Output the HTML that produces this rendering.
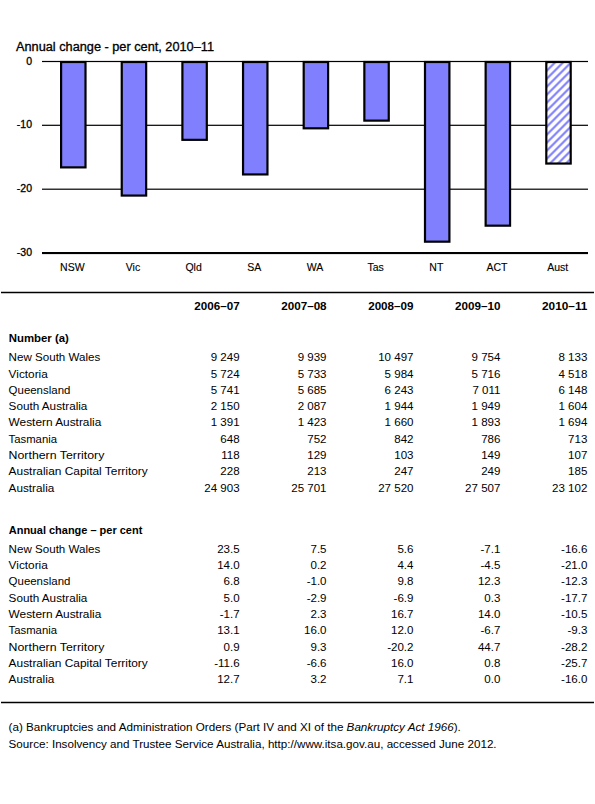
<!DOCTYPE html>
<html><head><meta charset="utf-8"><style>
html,body{margin:0;padding:0;background:#fff;width:595px;height:804px;overflow:hidden}
svg{display:block}
text{font-family:'Liberation Sans', sans-serif;fill:#000}
</style></head><body>
<svg width="595" height="804" viewBox="0 0 595 804">
<defs><pattern id="hatch" patternUnits="userSpaceOnUse" x="0" y="1.5" width="8" height="8">
<rect width="8" height="8" fill="#fff"/>
<path d="M-2,2 L2,-2 M0,8 L8,0 M6,10 L10,6" stroke="#8080FF" stroke-width="2.2"/>
</pattern></defs>
<rect x="42" y="60.90" width="546" height="1.2" fill="#000"/>
<rect x="42" y="124.70" width="546" height="1.2" fill="#000"/>
<rect x="42" y="188.60" width="546" height="1.2" fill="#000"/>
<rect x="61.10" y="62" width="24.4" height="105.38" fill="#8080FF" stroke="#000" stroke-width="2.2"/>
<rect x="121.75" y="62" width="24.4" height="133.56" fill="#8080FF" stroke="#000" stroke-width="2.2"/>
<rect x="182.40" y="62" width="24.4" height="77.84" fill="#8080FF" stroke="#000" stroke-width="2.2"/>
<rect x="243.05" y="62" width="24.4" height="112.43" fill="#8080FF" stroke="#000" stroke-width="2.2"/>
<rect x="303.70" y="62" width="24.4" height="66.31" fill="#8080FF" stroke="#000" stroke-width="2.2"/>
<rect x="364.35" y="62" width="24.4" height="58.63" fill="#8080FF" stroke="#000" stroke-width="2.2"/>
<rect x="425.00" y="62" width="24.4" height="179.68" fill="#8080FF" stroke="#000" stroke-width="2.2"/>
<rect x="485.65" y="62" width="24.4" height="163.67" fill="#8080FF" stroke="#000" stroke-width="2.2"/>
<rect x="546.30" y="62" width="24.4" height="101.54" fill="url(#hatch)" stroke="#000" stroke-width="2.2"/>
<rect x="42" y="252" width="546" height="2.1" fill="#000"/>
<text x="16.00" y="51.00" font-size="12" text-anchor="start" textLength="198" lengthAdjust="spacingAndGlyphs" stroke="#000" stroke-width="0.3">Annual change - per cent, 2010–11</text>
<text x="32.00" y="64.70" font-size="10.5" text-anchor="end" stroke="#000" stroke-width="0.3">0</text>
<text x="32.00" y="128.10" font-size="10.5" text-anchor="end" stroke="#000" stroke-width="0.3">-10</text>
<text x="32.00" y="192.00" font-size="10.5" text-anchor="end" stroke="#000" stroke-width="0.3">-20</text>
<text x="32.00" y="255.80" font-size="10.5" text-anchor="end" stroke="#000" stroke-width="0.3">-30</text>
<text x="72.30" y="271.00" font-size="10.5" text-anchor="middle" stroke="#000" stroke-width="0.12">NSW</text>
<text x="132.97" y="271.00" font-size="10.5" text-anchor="middle" stroke="#000" stroke-width="0.12">Vic</text>
<text x="193.64" y="271.00" font-size="10.5" text-anchor="middle" stroke="#000" stroke-width="0.12">Qld</text>
<text x="254.31" y="271.00" font-size="10.5" text-anchor="middle" stroke="#000" stroke-width="0.12">SA</text>
<text x="314.98" y="271.00" font-size="10.5" text-anchor="middle" stroke="#000" stroke-width="0.12">WA</text>
<text x="375.65" y="271.00" font-size="10.5" text-anchor="middle" stroke="#000" stroke-width="0.12">Tas</text>
<text x="436.32" y="271.00" font-size="10.5" text-anchor="middle" stroke="#000" stroke-width="0.12">NT</text>
<text x="496.99" y="271.00" font-size="10.5" text-anchor="middle" stroke="#000" stroke-width="0.12">ACT</text>
<text x="557.66" y="271.00" font-size="10.5" text-anchor="middle" stroke="#000" stroke-width="0.12">Aust</text>
<rect x="1" y="291.75" width="593" height="1.5" fill="#000"/>
<text x="239.70" y="309.80" font-size="10.5" text-anchor="end" font-weight="bold" textLength="45.4" lengthAdjust="spacingAndGlyphs">2006–07</text>
<text x="326.63" y="309.80" font-size="10.5" text-anchor="end" font-weight="bold" textLength="45.4" lengthAdjust="spacingAndGlyphs">2007–08</text>
<text x="413.56" y="309.80" font-size="10.5" text-anchor="end" font-weight="bold" textLength="45.4" lengthAdjust="spacingAndGlyphs">2008–09</text>
<text x="500.49" y="309.80" font-size="10.5" text-anchor="end" font-weight="bold" textLength="45.4" lengthAdjust="spacingAndGlyphs">2009–10</text>
<text x="587.42" y="309.80" font-size="10.5" text-anchor="end" font-weight="bold" textLength="45.4" lengthAdjust="spacingAndGlyphs">2010–11</text>
<text x="8.70" y="341.80" font-size="10.5" text-anchor="start" font-weight="bold" textLength="60.2" lengthAdjust="spacingAndGlyphs">Number (a)</text>
<text x="8.60" y="361.00" font-size="10.5" text-anchor="start" textLength="91.7" lengthAdjust="spacingAndGlyphs">New South Wales</text>
<text transform="translate(239.60,361.00) scale(1.1,1)" font-size="10.5" text-anchor="end">9 249</text>
<text transform="translate(326.53,361.00) scale(1.1,1)" font-size="10.5" text-anchor="end">9 939</text>
<text transform="translate(413.46,361.00) scale(1.1,1)" font-size="10.5" text-anchor="end">10 497</text>
<text transform="translate(500.39,361.00) scale(1.1,1)" font-size="10.5" text-anchor="end">9 754</text>
<text transform="translate(587.32,361.00) scale(1.1,1)" font-size="10.5" text-anchor="end">8 133</text>
<text x="8.60" y="378.10" font-size="10.5" text-anchor="start" textLength="39.2" lengthAdjust="spacingAndGlyphs">Victoria</text>
<text transform="translate(239.60,378.10) scale(1.1,1)" font-size="10.5" text-anchor="end">5 724</text>
<text transform="translate(326.53,378.10) scale(1.1,1)" font-size="10.5" text-anchor="end">5 733</text>
<text transform="translate(413.46,378.10) scale(1.1,1)" font-size="10.5" text-anchor="end">5 984</text>
<text transform="translate(500.39,378.10) scale(1.1,1)" font-size="10.5" text-anchor="end">5 716</text>
<text transform="translate(587.32,378.10) scale(1.1,1)" font-size="10.5" text-anchor="end">4 518</text>
<text x="8.60" y="394.00" font-size="10.5" text-anchor="start" textLength="61.8" lengthAdjust="spacingAndGlyphs">Queensland</text>
<text transform="translate(239.60,394.00) scale(1.1,1)" font-size="10.5" text-anchor="end">5 741</text>
<text transform="translate(326.53,394.00) scale(1.1,1)" font-size="10.5" text-anchor="end">5 685</text>
<text transform="translate(413.46,394.00) scale(1.1,1)" font-size="10.5" text-anchor="end">6 243</text>
<text transform="translate(500.39,394.00) scale(1.1,1)" font-size="10.5" text-anchor="end">7 011</text>
<text transform="translate(587.32,394.00) scale(1.1,1)" font-size="10.5" text-anchor="end">6 148</text>
<text x="8.60" y="409.80" font-size="10.5" text-anchor="start" textLength="78.8" lengthAdjust="spacingAndGlyphs">South Australia</text>
<text transform="translate(239.60,409.80) scale(1.1,1)" font-size="10.5" text-anchor="end">2 150</text>
<text transform="translate(326.53,409.80) scale(1.1,1)" font-size="10.5" text-anchor="end">2 087</text>
<text transform="translate(413.46,409.80) scale(1.1,1)" font-size="10.5" text-anchor="end">1 944</text>
<text transform="translate(500.39,409.80) scale(1.1,1)" font-size="10.5" text-anchor="end">1 949</text>
<text transform="translate(587.32,409.80) scale(1.1,1)" font-size="10.5" text-anchor="end">1 604</text>
<text x="8.60" y="425.90" font-size="10.5" text-anchor="start" textLength="92.7" lengthAdjust="spacingAndGlyphs">Western Australia</text>
<text transform="translate(239.60,425.90) scale(1.1,1)" font-size="10.5" text-anchor="end">1 391</text>
<text transform="translate(326.53,425.90) scale(1.1,1)" font-size="10.5" text-anchor="end">1 423</text>
<text transform="translate(413.46,425.90) scale(1.1,1)" font-size="10.5" text-anchor="end">1 660</text>
<text transform="translate(500.39,425.90) scale(1.1,1)" font-size="10.5" text-anchor="end">1 893</text>
<text transform="translate(587.32,425.90) scale(1.1,1)" font-size="10.5" text-anchor="end">1 694</text>
<text x="8.60" y="443.00" font-size="10.5" text-anchor="start" textLength="48.4" lengthAdjust="spacingAndGlyphs">Tasmania</text>
<text transform="translate(239.60,443.00) scale(1.1,1)" font-size="10.5" text-anchor="end">648</text>
<text transform="translate(326.53,443.00) scale(1.1,1)" font-size="10.5" text-anchor="end">752</text>
<text transform="translate(413.46,443.00) scale(1.1,1)" font-size="10.5" text-anchor="end">842</text>
<text transform="translate(500.39,443.00) scale(1.1,1)" font-size="10.5" text-anchor="end">786</text>
<text transform="translate(587.32,443.00) scale(1.1,1)" font-size="10.5" text-anchor="end">713</text>
<text x="8.60" y="458.90" font-size="10.5" text-anchor="start" textLength="95.7" lengthAdjust="spacingAndGlyphs">Northern Territory</text>
<text transform="translate(239.60,458.90) scale(1.1,1)" font-size="10.5" text-anchor="end">118</text>
<text transform="translate(326.53,458.90) scale(1.1,1)" font-size="10.5" text-anchor="end">129</text>
<text transform="translate(413.46,458.90) scale(1.1,1)" font-size="10.5" text-anchor="end">103</text>
<text transform="translate(500.39,458.90) scale(1.1,1)" font-size="10.5" text-anchor="end">149</text>
<text transform="translate(587.32,458.90) scale(1.1,1)" font-size="10.5" text-anchor="end">107</text>
<text x="8.60" y="474.70" font-size="10.5" text-anchor="start" textLength="139.2" lengthAdjust="spacingAndGlyphs">Australian Capital Territory</text>
<text transform="translate(239.60,474.70) scale(1.1,1)" font-size="10.5" text-anchor="end">228</text>
<text transform="translate(326.53,474.70) scale(1.1,1)" font-size="10.5" text-anchor="end">213</text>
<text transform="translate(413.46,474.70) scale(1.1,1)" font-size="10.5" text-anchor="end">247</text>
<text transform="translate(500.39,474.70) scale(1.1,1)" font-size="10.5" text-anchor="end">249</text>
<text transform="translate(587.32,474.70) scale(1.1,1)" font-size="10.5" text-anchor="end">185</text>
<text x="8.60" y="491.60" font-size="10.5" text-anchor="start" textLength="45.7" lengthAdjust="spacingAndGlyphs">Australia</text>
<text transform="translate(239.60,491.60) scale(1.1,1)" font-size="10.5" text-anchor="end">24 903</text>
<text transform="translate(326.53,491.60) scale(1.1,1)" font-size="10.5" text-anchor="end">25 701</text>
<text transform="translate(413.46,491.60) scale(1.1,1)" font-size="10.5" text-anchor="end">27 520</text>
<text transform="translate(500.39,491.60) scale(1.1,1)" font-size="10.5" text-anchor="end">27 507</text>
<text transform="translate(587.32,491.60) scale(1.1,1)" font-size="10.5" text-anchor="end">23 102</text>
<text x="8.80" y="533.80" font-size="10.5" text-anchor="start" font-weight="bold" textLength="133.5" lengthAdjust="spacingAndGlyphs">Annual change – per cent</text>
<text x="8.60" y="552.80" font-size="10.5" text-anchor="start" textLength="91.7" lengthAdjust="spacingAndGlyphs">New South Wales</text>
<text transform="translate(239.60,552.80) scale(1.1,1)" font-size="10.5" text-anchor="end">23.5</text>
<text transform="translate(326.53,552.80) scale(1.1,1)" font-size="10.5" text-anchor="end">7.5</text>
<text transform="translate(413.46,552.80) scale(1.1,1)" font-size="10.5" text-anchor="end">5.6</text>
<text transform="translate(500.39,552.80) scale(1.1,1)" font-size="10.5" text-anchor="end">-7.1</text>
<text transform="translate(587.32,552.80) scale(1.1,1)" font-size="10.5" text-anchor="end">-16.6</text>
<text x="8.60" y="569.00" font-size="10.5" text-anchor="start" textLength="39.2" lengthAdjust="spacingAndGlyphs">Victoria</text>
<text transform="translate(239.60,569.00) scale(1.1,1)" font-size="10.5" text-anchor="end">14.0</text>
<text transform="translate(326.53,569.00) scale(1.1,1)" font-size="10.5" text-anchor="end">0.2</text>
<text transform="translate(413.46,569.00) scale(1.1,1)" font-size="10.5" text-anchor="end">4.4</text>
<text transform="translate(500.39,569.00) scale(1.1,1)" font-size="10.5" text-anchor="end">-4.5</text>
<text transform="translate(587.32,569.00) scale(1.1,1)" font-size="10.5" text-anchor="end">-21.0</text>
<text x="8.60" y="584.90" font-size="10.5" text-anchor="start" textLength="61.8" lengthAdjust="spacingAndGlyphs">Queensland</text>
<text transform="translate(239.60,584.90) scale(1.1,1)" font-size="10.5" text-anchor="end">6.8</text>
<text transform="translate(326.53,584.90) scale(1.1,1)" font-size="10.5" text-anchor="end">-1.0</text>
<text transform="translate(413.46,584.90) scale(1.1,1)" font-size="10.5" text-anchor="end">9.8</text>
<text transform="translate(500.39,584.90) scale(1.1,1)" font-size="10.5" text-anchor="end">12.3</text>
<text transform="translate(587.32,584.90) scale(1.1,1)" font-size="10.5" text-anchor="end">-12.3</text>
<text x="8.60" y="602.00" font-size="10.5" text-anchor="start" textLength="78.8" lengthAdjust="spacingAndGlyphs">South Australia</text>
<text transform="translate(239.60,602.00) scale(1.1,1)" font-size="10.5" text-anchor="end">5.0</text>
<text transform="translate(326.53,602.00) scale(1.1,1)" font-size="10.5" text-anchor="end">-2.9</text>
<text transform="translate(413.46,602.00) scale(1.1,1)" font-size="10.5" text-anchor="end">-6.9</text>
<text transform="translate(500.39,602.00) scale(1.1,1)" font-size="10.5" text-anchor="end">0.3</text>
<text transform="translate(587.32,602.00) scale(1.1,1)" font-size="10.5" text-anchor="end">-17.7</text>
<text x="8.60" y="617.80" font-size="10.5" text-anchor="start" textLength="92.7" lengthAdjust="spacingAndGlyphs">Western Australia</text>
<text transform="translate(239.60,617.80) scale(1.1,1)" font-size="10.5" text-anchor="end">-1.7</text>
<text transform="translate(326.53,617.80) scale(1.1,1)" font-size="10.5" text-anchor="end">2.3</text>
<text transform="translate(413.46,617.80) scale(1.1,1)" font-size="10.5" text-anchor="end">16.7</text>
<text transform="translate(500.39,617.80) scale(1.1,1)" font-size="10.5" text-anchor="end">14.0</text>
<text transform="translate(587.32,617.80) scale(1.1,1)" font-size="10.5" text-anchor="end">-10.5</text>
<text x="8.60" y="633.70" font-size="10.5" text-anchor="start" textLength="48.4" lengthAdjust="spacingAndGlyphs">Tasmania</text>
<text transform="translate(239.60,633.70) scale(1.1,1)" font-size="10.5" text-anchor="end">13.1</text>
<text transform="translate(326.53,633.70) scale(1.1,1)" font-size="10.5" text-anchor="end">16.0</text>
<text transform="translate(413.46,633.70) scale(1.1,1)" font-size="10.5" text-anchor="end">12.0</text>
<text transform="translate(500.39,633.70) scale(1.1,1)" font-size="10.5" text-anchor="end">-6.7</text>
<text transform="translate(587.32,633.70) scale(1.1,1)" font-size="10.5" text-anchor="end">-9.3</text>
<text x="8.60" y="650.90" font-size="10.5" text-anchor="start" textLength="95.7" lengthAdjust="spacingAndGlyphs">Northern Territory</text>
<text transform="translate(239.60,650.90) scale(1.1,1)" font-size="10.5" text-anchor="end">0.9</text>
<text transform="translate(326.53,650.90) scale(1.1,1)" font-size="10.5" text-anchor="end">9.3</text>
<text transform="translate(413.46,650.90) scale(1.1,1)" font-size="10.5" text-anchor="end">-20.2</text>
<text transform="translate(500.39,650.90) scale(1.1,1)" font-size="10.5" text-anchor="end">44.7</text>
<text transform="translate(587.32,650.90) scale(1.1,1)" font-size="10.5" text-anchor="end">-28.2</text>
<text x="8.60" y="666.90" font-size="10.5" text-anchor="start" textLength="139.2" lengthAdjust="spacingAndGlyphs">Australian Capital Territory</text>
<text transform="translate(239.60,666.90) scale(1.1,1)" font-size="10.5" text-anchor="end">-11.6</text>
<text transform="translate(326.53,666.90) scale(1.1,1)" font-size="10.5" text-anchor="end">-6.6</text>
<text transform="translate(413.46,666.90) scale(1.1,1)" font-size="10.5" text-anchor="end">16.0</text>
<text transform="translate(500.39,666.90) scale(1.1,1)" font-size="10.5" text-anchor="end">0.8</text>
<text transform="translate(587.32,666.90) scale(1.1,1)" font-size="10.5" text-anchor="end">-25.7</text>
<text x="8.60" y="682.90" font-size="10.5" text-anchor="start" textLength="45.7" lengthAdjust="spacingAndGlyphs">Australia</text>
<text transform="translate(239.60,682.90) scale(1.1,1)" font-size="10.5" text-anchor="end">12.7</text>
<text transform="translate(326.53,682.90) scale(1.1,1)" font-size="10.5" text-anchor="end">3.2</text>
<text transform="translate(413.46,682.90) scale(1.1,1)" font-size="10.5" text-anchor="end">7.1</text>
<text transform="translate(500.39,682.90) scale(1.1,1)" font-size="10.5" text-anchor="end">0.0</text>
<text transform="translate(587.32,682.90) scale(1.1,1)" font-size="10.5" text-anchor="end">-16.0</text>
<rect x="1" y="701.75" width="593" height="1.5" fill="#000"/>
<text x="8.60" y="730.80" font-size="10" text-anchor="start" textLength="452.2" lengthAdjust="spacingAndGlyphs">(a) Bankruptcies and Administration Orders (Part IV and XI of the <tspan font-style="italic">Bankruptcy Act 1966</tspan>).</text>
<text x="8.60" y="747.60" font-size="10" text-anchor="start" textLength="488" lengthAdjust="spacingAndGlyphs">Source: Insolvency and Trustee Service Australia, http://www.itsa.gov.au, accessed June 2012.</text>
</svg>
</body></html>
